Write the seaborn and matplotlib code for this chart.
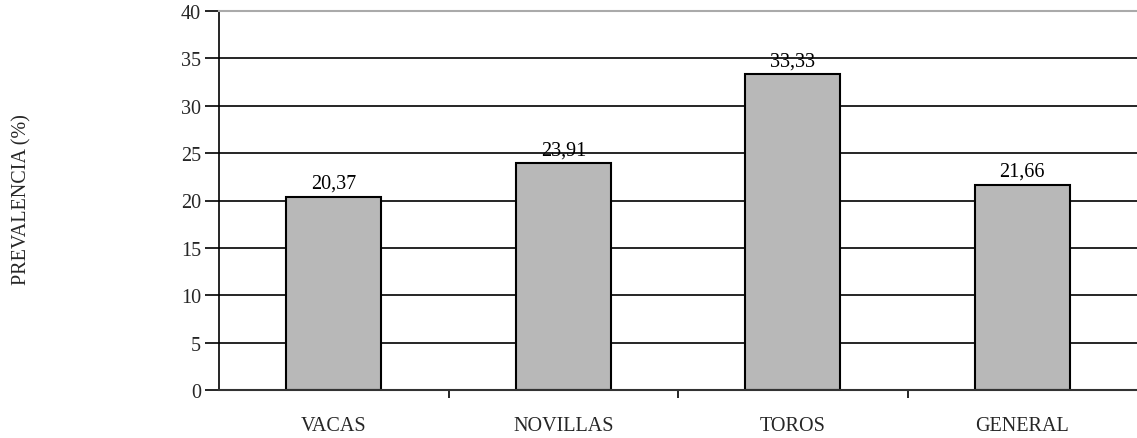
import matplotlib
matplotlib.use("Agg")
import matplotlib.pyplot as plt
import seaborn as sns
import pandas as pd

categorias = ["VACAS", "NOVILLAS", "TOROS", "GENERAL"]
prevalencia = [20.37, 23.91, 33.33, 21.66]
etiquetas = ["20,37", "23,91", "33,33", "21,66"]
yticks = [0, 5, 10, 15, 20, 25, 30, 35, 40]

sns.set_theme(style="white")
plt.rcParams["font.family"] = ["Liberation Serif", "DejaVu Serif"]

df = pd.DataFrame({"categoria": categorias, "prevalencia": prevalencia})

fig = plt.figure(figsize=(11.37, 4.39), dpi=100)
ax = fig.add_axes([219 / 1137, 1 - 391 / 439, (1137 - 219) / 1137, (391 - 12) / 439])

ax.set_axisbelow(True)
ax.yaxis.grid(True, color="black", linewidth=1.2)
ax.xaxis.grid(False)

sns.barplot(data=df, x="categoria", y="prevalencia", color="#b8b8b8",
            edgecolor="black", linewidth=1.5, width=0.415, saturation=1,
            ax=ax, zorder=2)

for i, (v, t) in enumerate(zip(prevalencia, etiquetas)):
    ax.annotate(t, (i, v), xytext=(0, 6.5), textcoords="offset points",
                ha="center", va="baseline", fontsize=14.5, color="black")

ax.set_xlim(-0.5, 3.5)
ax.set_ylim(0, 40)
ax.set_yticks(yticks)
ax.tick_params(axis="y", direction="out", length=10, width=1.2, color="black",
               labelsize=14.5, pad=3, left=True)
ax.set_xticks(range(len(categorias)))
ax.set_xticklabels(categorias)
ax.tick_params(axis="x", which="major", length=0, labelsize=14.5, pad=19)
ax.set_xticks([0.5, 1.5, 2.5], minor=True)
ax.tick_params(axis="x", which="minor", direction="out", length=6, width=1.2,
               color="black", bottom=True)

ax.set_xlabel("")
ax.set_ylabel("PREVALENCIA (%)", fontsize=14.5)
ax.yaxis.set_label_coords(-0.204, 0.504)

ax.spines["left"].set_color("black")
ax.spines["left"].set_linewidth(1.2)
ax.spines["bottom"].set_color("#333333")
ax.spines["bottom"].set_linewidth(1.5)
ax.spines["top"].set_color("#aaaaaa")
ax.spines["top"].set_linewidth(1.5)
ax.spines["right"].set_visible(False)

fig.savefig("out.png", dpi=100, facecolor="white")
